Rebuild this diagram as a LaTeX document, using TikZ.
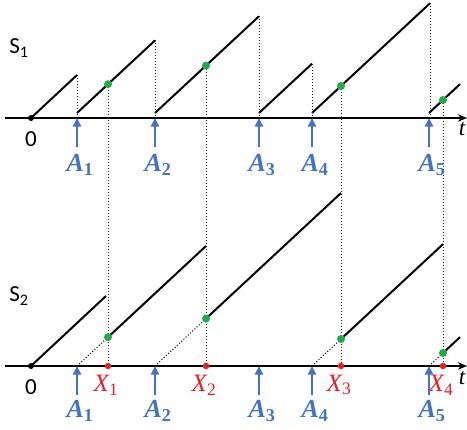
\documentclass[tikz,border=0pt]{standalone}
\usepackage{amsmath}
\usepackage{fontspec}
\setmainfont{Carlito}
\newfontfamily\labelfont{Liberation Serif}
\usepackage{tikz}
\usetikzlibrary{arrows.meta,calc}
\definecolor{arrivalBlue}{RGB}{68,114,196}
\definecolor{lossRed}{RGB}{236,28,36}
\definecolor{sampleGreen}{RGB}{30,172,72}
\tikzset{
  time axis/.style={-{Stealth[length=3.2mm,width=2.6mm]},line width=1.8pt,draw=black},
  saw line/.style={line width=2pt,draw=black},
  ghost line/.style={dotted,line width=1pt,draw=black},
  drop line/.style={dotted,line width=1pt,draw=black!85},
  arrival arrow/.style={-{Triangle[length=3mm,width=2.8mm]},line width=2.2pt,draw=arrivalBlue},
  arrival label/.style={text=arrivalBlue,font=\labelfont\bfseries\fontsize{26}{28}\selectfont},
  sample dot/.style={circle,fill=sampleGreen,inner sep=0pt,minimum size=8pt},
  loss dot/.style={circle,fill=lossRed,inner sep=0pt,minimum size=6.5pt},
  loss label/.style={text=lossRed,font=\labelfont\fontsize{25}{27}\selectfont},
  plain label/.style={font=\fontsize{23}{25}\selectfont}
}

\begin{document}
\begin{tikzpicture}[x=1pt,y=1pt]
    \useasboundingbox (0,0) rectangle (467,430);
    % axes
    \coordinate (o1) at (31,312);
    \coordinate (o2) at (31,64);
    \draw[time axis] (5,312) -- (467,312) coordinate (t1);
    \draw[time axis] (5,64) -- (467,64) coordinate (t2);
    \fill (o1) circle (3pt);
    \fill (o2) circle (3pt);
    \node[plain label] (zero1) at (31,291) {0};
    \node[plain label] (zero2) at (31,43) {0};
    \node[plain label] (tlab1) at (462,301) {\labelfont\itshape t};
    \node[plain label] (tlab2) at (462,52) {\labelfont\itshape t};
    \node[plain label] (s1) at (19,382) {S\textsubscript{1}};
    \node[plain label] (s2) at (19,134) {S\textsubscript{2}};

    % S1: sawtooth, reset at every arrival
    \draw[saw line] (o1) -- (77,355) coordinate (p1);
    \foreach \sa/\sb/\n in {77/155/2,155/259/3,259/312/4,312/430/5,429/460/6}
      \draw[saw line] (\sa,317) -- (\sb,{317+0.93*(\sb-\sa)}) coordinate (p\n);
    \foreach \n in {1,...,5}
      \draw[drop line] (p\n) -- (p\n |- o1);

    % S2: ramps that start at each kept arrival
    \draw[saw line] (o2) -- (106,134) coordinate (q0);
    \foreach \sa/\sx/\sb/\n in {77/108/206/1,155/206/341/2,312/341/443/3,429/443/460/4}{
      \coordinate (g\n) at (\sx,{317+0.93*(\sx-\sa)});
      \coordinate (h\n) at (\sx,{64+0.93*(\sx-\sa)});
      \coordinate (x\n) at (\sx,64);
      \draw[ghost line] (\sa,64) -- (h\n);
      \draw[saw line] (h\n) -- (\sb,{64+0.93*(\sb-\sa)});
      \draw[drop line] (g\n) -- (x\n);
    }
    \foreach \n in {1,...,4}{
      \node[sample dot] at (g\n) {};
      \node[sample dot] at (h\n) {};
      \node[loss dot] at (x\n) {};
      \node[loss label] at ($(x\n)+(-2,-19)$) {\itshape X\textsubscript{\upshape\n}};
    }

    % arrivals
    \foreach \px/\k in {77/1,155/2,259/3,312/4,429/5}{
      \coordinate (u\k) at (\px,312);
      \coordinate (d\k) at (\px,64);
      \draw[arrival arrow] ($(u\k)+(0,-29)$) -- (u\k);
      \draw[arrival arrow] ($(d\k)+(0,-29)$) -- (d\k);
      \node[arrival label] (lu\k) at ($(u\k)+(3,-47)$) {\itshape A\textsubscript{\upshape\k}};
      \node[arrival label] (ld\k) at ($(d\k)+(3,-45)$) {\itshape A\textsubscript{\upshape\k}};
    }
  \end{tikzpicture}
\end{document}
